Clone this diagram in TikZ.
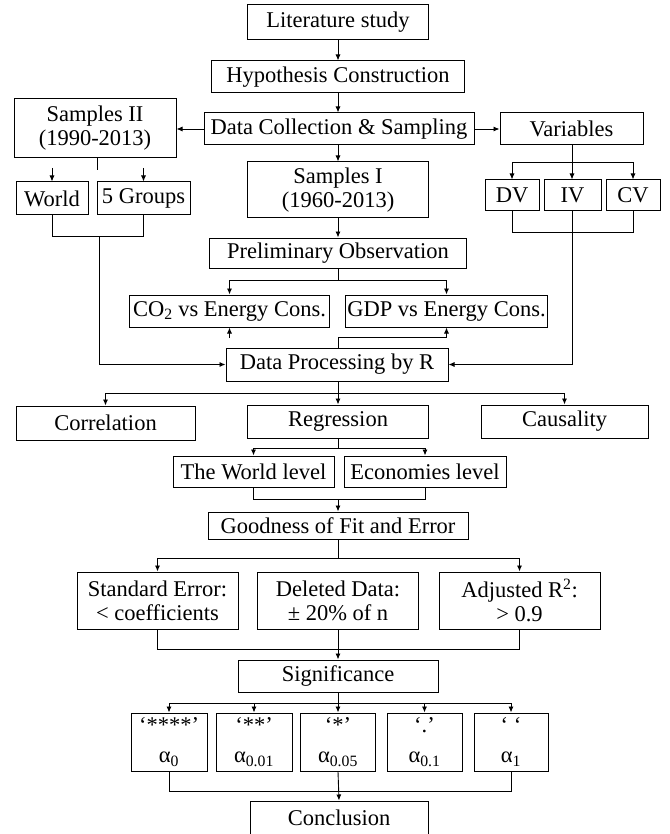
\documentclass[tikz,border=0pt]{standalone}
\usepackage{fontspec}
\setmainfont{Liberation Serif}
\usetikzlibrary{arrows.meta,calc}
\begin{document}
\begin{tikzpicture}[x=1pt,y=-1pt,
  box/.style={draw=black,line width=1pt,rectangle,inner sep=0pt,align=center,
    font=\fontsize{22.5}{24}\selectfont},
  ln/.style={line width=0.9pt},
  arr/.style={line width=0.9pt,-{Latex[length=6pt,width=5pt]}}]
\useasboundingbox (0,0) rectangle (669,834);

% main column
\node[box,minimum width=181pt,minimum height=35pt] (lit) at (338,22.5) {Literature study};
\node[box,minimum width=253pt,minimum height=32pt] (hyp) at (338,77) {Hypothesis Construction};
\node[box,minimum width=270pt,minimum height=32pt] (dcs) at (339,129) {Data Collection \& Sampling};
\node[box,minimum width=162pt,minimum height=59pt] (s2) at (95,128.5) {Samples II\\(1990-2013)};
\node[box,minimum width=143pt,minimum height=32pt] (var) at (571.5,129) {Variables};
\node[box,minimum width=181pt,minimum height=56pt] (s1) at (338,190) {Samples I\\(1960-2013)};
\node[box,minimum width=72pt,minimum height=33pt] (world) at (52,198.5) {World};
\node[box,minimum width=93pt,minimum height=33pt] (fiveg) at (143.5,198.5) {5 Groups};
\node[box,minimum width=54pt,minimum height=31pt] (dv) at (512,195.5) {DV};
\node[box,minimum width=57pt,minimum height=31pt] (iv) at (572.5,195.5) {IV};
\node[box,minimum width=54pt,minimum height=31pt] (cv) at (633,195.5) {CV};
\node[box,minimum width=257pt,minimum height=30pt] (po) at (338,253) {Preliminary Observation};
\node[box,minimum width=200pt,minimum height=32pt] (co2) at (229.5,311) {CO\textsubscript{2} vs Energy Cons.};
\node[box,minimum width=202pt,minimum height=32pt] (gdp) at (446.5,311) {GDP vs Energy Cons.};
\node[box,minimum width=222pt,minimum height=33pt] (dp) at (337,364.5) {Data Processing by R};
\node[box,minimum width=179pt,minimum height=34pt] (corr) at (105.5,423) {Correlation};
\node[box,minimum width=181pt,minimum height=33pt] (reg) at (338,421.5) {Regression};
\node[box,minimum width=167pt,minimum height=33pt] (caus) at (564.5,421.5) {Causality};
\node[box,minimum width=161pt,minimum height=31pt] (twl) at (253.5,471.5) {The World level};
\node[box,minimum width=162pt,minimum height=31pt] (eco) at (425,471.5) {Economies level};
\node[box,minimum width=260pt,minimum height=27pt] (gof) at (338,525.5) {Goodness of Fit and Error};
\node[box,minimum width=161pt,minimum height=57pt] (se) at (157.5,600.5) {Standard Error:\\< coefficients};
\node[box,minimum width=161pt,minimum height=57pt] (dd) at (338,600.5) {Deleted Data:\\± 20\% of n};
\node[box,minimum width=161pt,minimum height=57pt] (ar) at (519.5,600.5) {Adjusted R\textsuperscript{2}:\\> 0.9};
\node[box,minimum width=200pt,minimum height=32pt] (sig) at (338,676) {Significance};
\node[box,minimum width=76pt,minimum height=58pt] (a1) at (169,742) {‘****’\\[6pt]α\textsubscript{0}};
\node[box,minimum width=76pt,minimum height=58pt] (a2) at (254,742) {‘**’\\[6pt]α\textsubscript{0.01}};
\node[box,minimum width=75pt,minimum height=58pt] (a3) at (338,742) {‘*’\\[6pt]α\textsubscript{0.05}};
\node[box,minimum width=75pt,minimum height=58pt] (a4) at (424.5,742) {‘.’\\[6pt]α\textsubscript{0.1}};
\node[box,minimum width=74pt,minimum height=58pt] (a5) at (511,742) {‘ ‘\\[6pt]α\textsubscript{1}};
\node[box,minimum width=178pt,minimum height=33pt] (conc) at (339,817.5) {Conclusion};

% junction coordinates
\coordinate (s2j) at (97,170);
\coordinate (wa) at (52,168);
\coordinate (ga) at (143.5,168);
\coordinate (wgj) at (99,236);
\coordinate (vj) at (572,162);
\coordinate (dvj) at (572,232);
\coordinate (poj) at (338,280);
\coordinate (co2t) at (229.5,338);
\coordinate (gj) at (446.5,337.5);
\coordinate (dpj) at (338,393);
\coordinate (regj) at (338,448);
\coordinate (lvj) at (338,499);
\coordinate (gofj) at (338,558);
\coordinate (sej) at (338,649);
\coordinate (sigj) at (338,703);
\coordinate (aj) at (338,791);

% connectors
\draw[arr] (lit) -- (hyp);
\draw[arr] (hyp) -- (hyp.south |- dcs.north);
\draw[arr] (dcs.south -| s1.north) -- (s1.north);
\draw[arr] (dcs.west) -- (s2.east |- dcs.west);
\draw[arr] (dcs.east) -- (var.west |- dcs.east);

\draw[ln] (s2.south -| s2j) -- (s2j);
\draw[arr] (wa) -- (world.north);
\draw[arr] (ga) -- (fiveg.north);
\draw[ln] (world.south) -- (world.south |- wgj) -- (fiveg.south |- wgj) -- (fiveg.south);
\draw[arr] (wgj) |- (dp.west);

\draw[ln] (var.south -| vj) -- (vj);
\draw[arr] (vj) -| (dv.north);
\draw[arr] (vj) -| (cv.north);
\draw[arr] (vj) -- (iv.north -| vj);
\draw[ln] (dv.south) -- (dv.south |- dvj) -- (cv.south |- dvj) -- (cv.south);
\draw[arr] (iv.south -| vj) |- (dp.east);

\draw[arr] (s1) -- (po);
\draw[ln] (po.south) -- (poj);
\draw[arr] (poj) -| (co2.north);
\draw[arr] (poj) -| (gdp.north);
\draw[arr] (co2t) -- (co2.south);
\draw[arr] (dp.north -| poj) |- (gj) -- (gdp.south);

\draw[ln] (dp.south -| dpj) -- (dpj);
\draw[arr] (dpj) -| (corr.north);
\draw[arr] (dpj) -| (caus.north);
\draw[arr] (dpj) -- (reg.north);

\draw[ln] (reg.south) -- (regj);
\draw[arr] (regj) -| (twl.north);
\draw[arr] (regj) -| (eco.north);
\draw[ln] (twl.south) -- (twl.south |- lvj) -- (eco.south |- lvj) -- (eco.south);
\draw[arr] (lvj) -- (gof.north);

\draw[ln] (gof.south) -- (gofj);
\draw[arr] (gofj) -| (se.north);
\draw[arr] (gofj) -| (ar.north);
\draw[ln] (se.south) -- (se.south |- sej) -- (ar.south |- sej) -- (ar.south);
\draw[arr] (dd.south) -- (sig.north);

\draw[ln] (sig.south) -- (sigj);
\draw[arr] (sigj) -| (a1.north);
\draw[arr] (sigj) -| (a2.north);
\draw[arr] (sigj) -- (a3.north);
\draw[arr] (sigj) -| (a4.north);
\draw[arr] (sigj) -| (a5.north);
\draw[ln] (a1.south) -- (a1.south |- aj) -- (a5.south |- aj) -- (a5.south);
\draw[arr] (a3.south) -- (conc.north);
\end{tikzpicture}
\end{document}
